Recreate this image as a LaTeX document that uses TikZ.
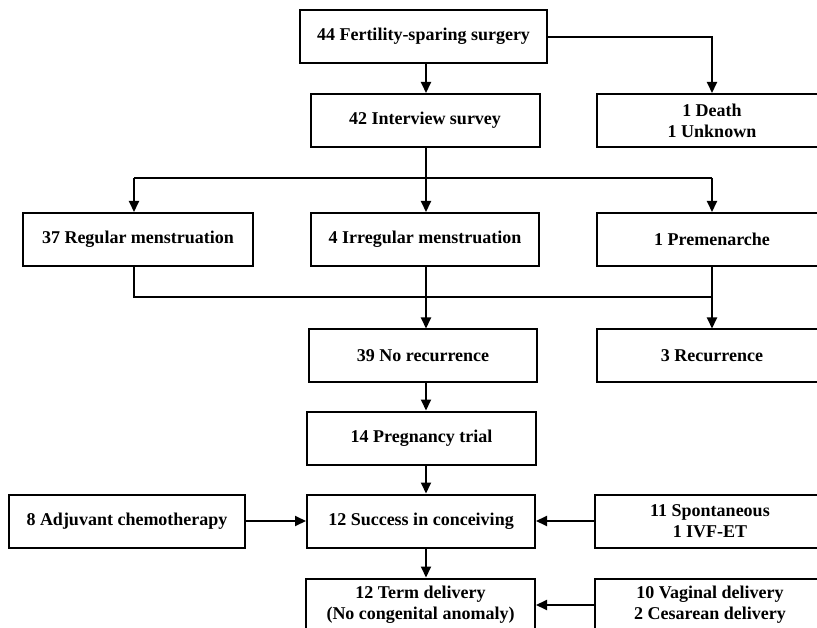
\documentclass[tikz,border=0pt]{standalone}
\usepackage{fontspec}
\setmainfont{Liberation Serif}
\usetikzlibrary{arrows.meta}
\begin{document}
\begin{tikzpicture}[x=1pt,y=-1pt,
  box/.style={draw, line width=2pt, minimum height=53pt, align=center,
    font=\bfseries\fontsize{18}{21}\selectfont, inner sep=0pt},
  arr/.style={line width=2pt, -{Triangle[length=11pt,width=10pt]}},
  ln/.style={line width=2pt}]
\useasboundingbox (0,0) rectangle (817,628);
\clip (0,0) rectangle (817,628);
\fill[white] (0,0) rectangle (817,628);
% nodes
\node[box, minimum width=247pt] (fss) at (423.5,36.5) {44 Fertility-sparing surgery};
\node[box, minimum width=229pt] (intv) at (425,120.5) {42 Interview survey};
\node[box, minimum width=230pt] (death) at (712,120.5) {1 Death\\1 Unknown};
\node[box, minimum width=230pt] (reg) at (138,239.5) {37 Regular menstruation};
\node[box, minimum width=228pt] (irr) at (425,239.5) {4 Irregular menstruation};
\node[box, minimum width=230pt] (pre) at (712,239.5) {1 Premenarche};
\node[box, minimum width=228pt] (norec) at (423,356) {39 No recurrence};
\node[box, minimum width=230pt] (rec) at (712,356) {3 Recurrence};
\node[box, minimum width=229pt] (preg) at (421.5,438) {14 Pregnancy trial};
\node[box, minimum width=236pt] (adj) at (127,521) {8 Adjuvant chemotherapy};
\node[box, minimum width=228pt] (succ) at (421,521) {12 Success in conceiving};
\node[box, minimum width=230pt] (spont) at (710,521) {11 Spontaneous\\1 IVF-ET};
\node[box, minimum width=229pt] (term) at (420.5,605) {12 Term delivery\\(No congenital anomaly)};
\node[box, minimum width=230pt] (vag) at (710,605) {10 Vaginal delivery\\2 Cesarean delivery};
% coordinates
\coordinate (busT) at (426,178);
\coordinate (busTL) at (134,178);
\coordinate (busTR) at (712,178);
\coordinate (fssR) at (712,37);
\coordinate (busBL) at (134,297);
\coordinate (busBR) at (712,297);
% connectors
\draw[arr] (fss.south -| busT) -- (intv.north -| busT);
\draw[arr] (fss.east |- fssR) -- (fssR) -- (death.north);
\draw[ln] (intv.south -| busT) -- (busT);
\draw[ln] (busTL) -- (busTR);
\draw[arr] (busTL) -- (reg.north -| busTL);
\draw[arr] (busT) -- (irr.north -| busT);
\draw[arr] (busTR) -- (pre.north);
\draw[ln] (reg.south -| busBL) -- (busBL) -- (busBR);
\draw[arr] (irr.south -| busT) -- (norec.north -| busT);
\draw[arr] (pre.south) -- (rec.north);
\draw[arr] (norec.south -| busT) -- (preg.north -| busT);
\draw[arr] (preg.south -| busT) -- (succ.north -| busT);
\draw[arr] (adj.east) -- (succ.west);
\draw[arr] (spont.west) -- (succ.east);
\draw[arr] (succ.south -| busT) -- (term.north -| busT);
\draw[arr] (vag.west) -- (term.east);
\end{tikzpicture}
\end{document}
